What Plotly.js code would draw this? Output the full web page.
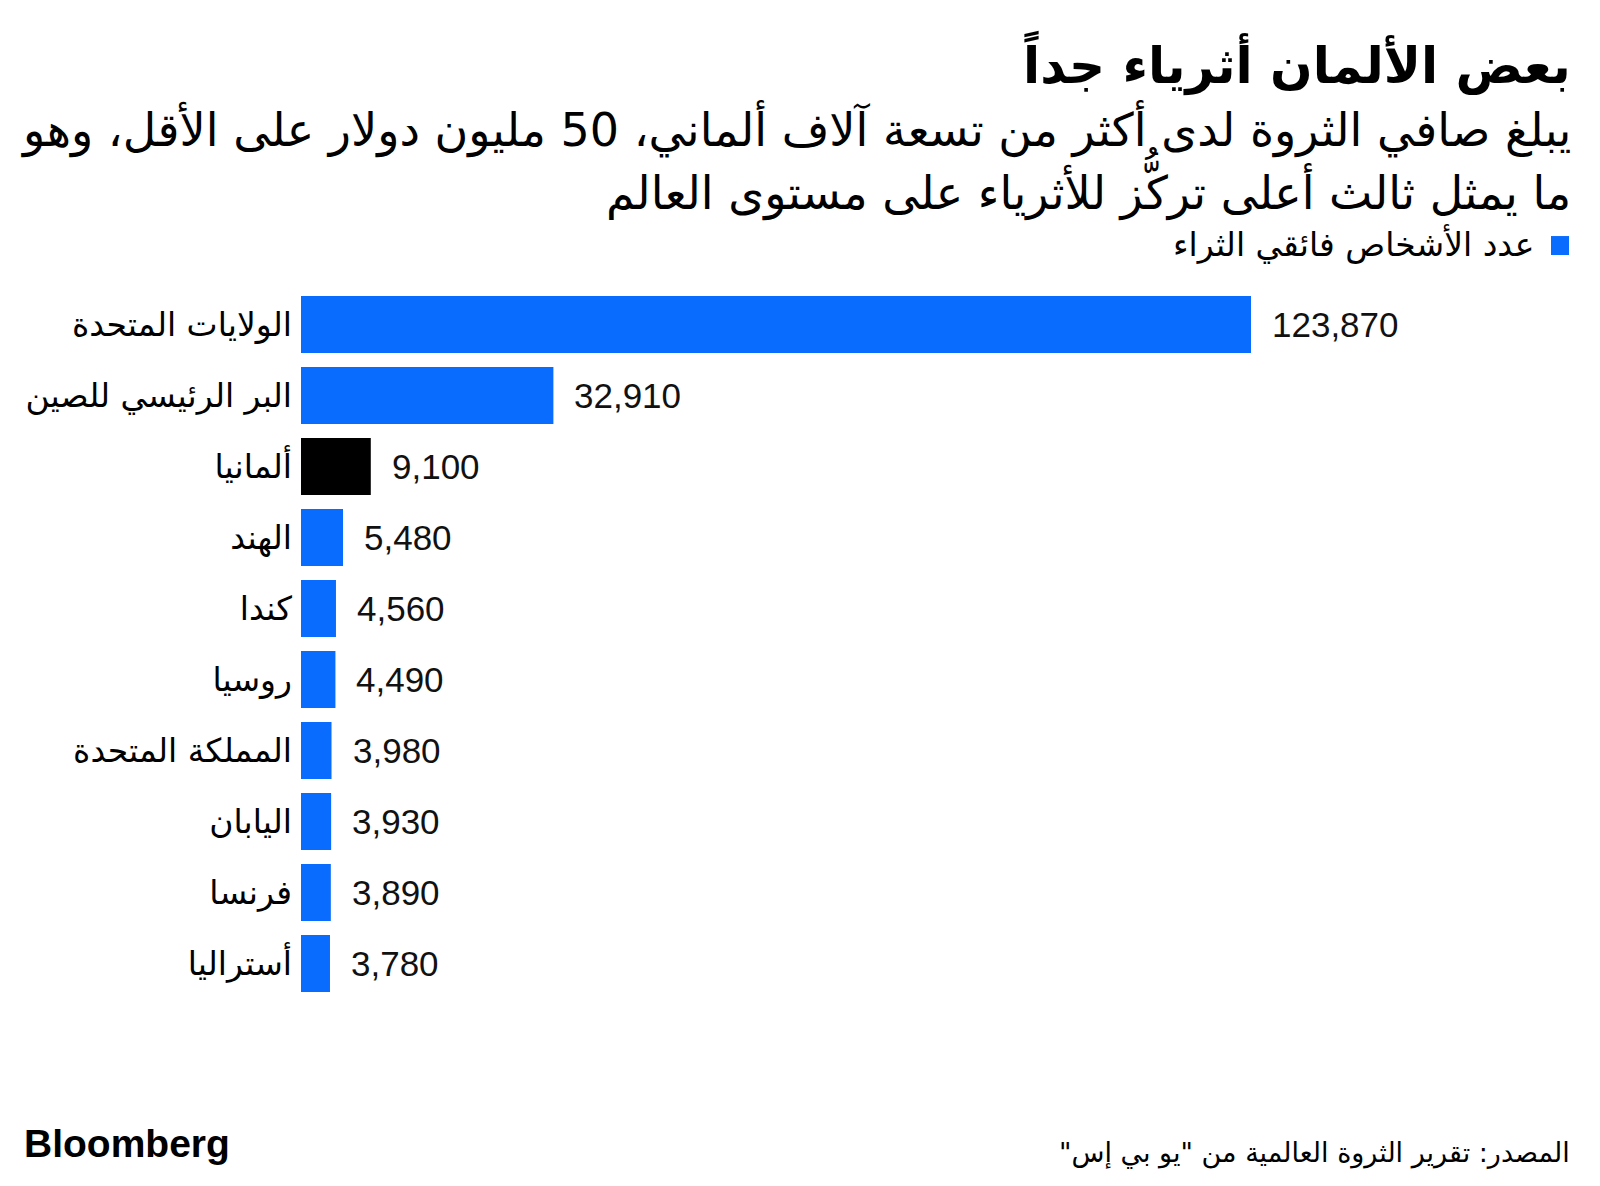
<!DOCTYPE html>
<html><head><meta charset="utf-8">
<script src="https://cdn.plot.ly/plotly-3.0.1.min.js"></script>
<style>html,body{margin:0;padding:0;background:#fff;}#chart{width:1600px;height:1186px;}</style>
</head><body><div id="chart"></div>
<script>
const categories = ["الولايات المتحدة","البر الرئيسي للصين","ألمانيا","الهند","كندا","روسيا","المملكة المتحدة","اليابان","فرنسا","أستراليا"];
const values = [123870, 32910, 9100, 5480, 4560, 4490, 3980, 3930, 3890, 3780];
const highlight = "ألمانيا";
const seriesName = "عدد الأشخاص فائقي الثراء";
const titleText = "بعض الألمان أثرياء جداً";
const subtitleLines = ["يبلغ صافي الثروة لدى أكثر من تسعة آلاف ألماني، 50 مليون دولار على الأقل، وهو","ما يمثل ثالث أعلى تركُّز للأثرياء على مستوى العالم"];
const sourceText = "المصدر: تقرير الثروة العالمية من \"يو بي إس\"";
const brand = "Bloomberg";

const BLUE = "#0a6cff";
const RLM = "\u200F";
const AR = "DejaVu Sans, Noto Sans, sans-serif";
const NUM = "Liberation Sans, Arial, sans-serif";

const fmt = v => v.toLocaleString("en-US");

const trace = {
  type: "bar", orientation: "h",
  x: values, y: categories,
  marker: {color: categories.map(c => c === highlight ? "#000000" : BLUE)},
  hoverinfo: "none", showlegend: false, cliponaxis: false
};

const annotations = values.map((v, i) => ({
  x: v, y: categories[i], xref: "x", yref: "y",
  text: fmt(v), showarrow: false, xanchor: "left", yanchor: "middle", xshift: 19,
  font: {family: NUM, size: 35, color: "#111"}
}));

annotations.push(
  {xref:"paper", yref:"paper", x:1, y:1.3183, xanchor:"right", yanchor:"middle", showarrow:false,
   text: "<b>" + RLM + titleText + RLM + "</b>", font:{family: AR, size: 50, color:"#000"}},
  {xref:"paper", yref:"paper", x:1, y:1.2254, xanchor:"right", yanchor:"middle", showarrow:false,
   text: RLM + subtitleLines[0] + RLM, font:{family: AR, size: 46, color:"#000"}},
  {xref:"paper", yref:"paper", x:1, y:1.1479, xanchor:"right", yanchor:"middle", showarrow:false,
   text: RLM + subtitleLines[1] + RLM, font:{family: AR, size: 46, color:"#000"}},
  {xref:"paper", yref:"paper", x:0.9709, y:1.0620, xanchor:"right", yanchor:"middle", showarrow:false,
   text: RLM + seriesName + RLM, font:{family: AR, size: 33, color:"#000"}},
  {xref:"paper", yref:"paper", x:-0.2193, y:-0.2042, xanchor:"left", yanchor:"middle", showarrow:false,
   text: "<b>" + brand + "</b>", font:{family: NUM, size: 39, color:"#000"}},
  {xref:"paper", yref:"paper", x:0.9992, y:-0.2169, xanchor:"right", yanchor:"middle", showarrow:false,
   text: RLM + sourceText + RLM, font:{family: AR, size: 27, color:"#000"}}
);

const layout = {
  width: 1600, height: 1186,
  margin: {l: 301, r: 27, t: 289, b: 187, pad: 0},
  paper_bgcolor: "#fff", plot_bgcolor: "#fff",
  bargap: 0.2,
  showlegend: false,
  xaxis: {range: [0, 165854], visible: false, fixedrange: true},
  yaxis: {type: "category", autorange: "reversed", showgrid: false, zeroline: false, showline: false,
          ticks: "", ticklabelstandoff: 8,
          tickfont: {family: AR, size: 33, color: "#000"}, fixedrange: true},
  shapes: [{type:"rect", xref:"paper", yref:"paper", x0:0.9827, x1:0.9969, y0:1.0479, y1:1.0746,
            fillcolor: BLUE, line:{width:0}}],
  annotations: annotations
};

Plotly.newPlot("chart", [trace], layout, {staticPlot: true, displayModeBar: false});
</script></body></html>
